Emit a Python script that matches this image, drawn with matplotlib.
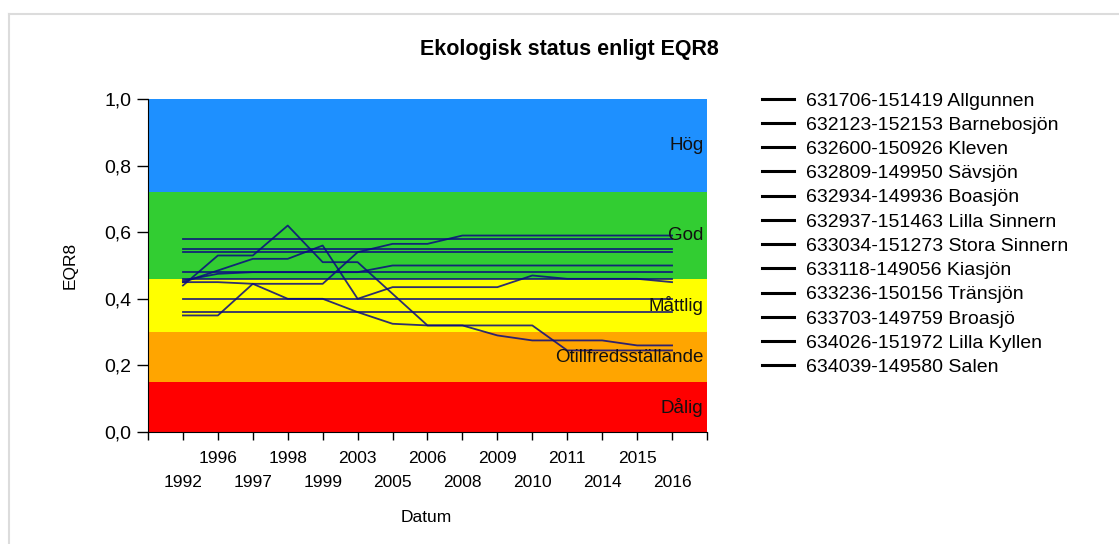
import matplotlib.pyplot as plt
from matplotlib.lines import Line2D

plt.rcParams['font.family'] = ['Liberation Sans', 'DejaVu Sans']

# x categories (sampling years)
years = ["1992", "1996", "1997", "1998", "1999", "2003", "2005", "2006",
         "2008", "2009", "2010", "2011", "2014", "2015", "2016"]

lakes = ["631706-151419 Allgunnen", "632123-152153 Barnebosjön",
         "632600-150926 Kleven", "632809-149950 Sävsjön",
         "632934-149936 Boasjön", "632937-151463 Lilla Sinnern",
         "633034-151273 Stora Sinnern", "633118-149056 Kiasjön",
         "633236-150156 Tränsjön", "633703-149759 Broasjö",
         "634026-151972 Lilla Kyllen", "634039-149580 Salen"]

# EQR8 values
allgunnen = [0.58, 0.58, 0.58, 0.58, 0.58, 0.58, 0.58, 0.58, 0.58, 0.58, 0.58, 0.58, 0.58, 0.58, 0.58]
barnebosjon = [0.55, 0.55, 0.55, 0.55, 0.55, 0.55, 0.55, 0.55, 0.55, 0.55, 0.55, 0.55, 0.55, 0.55, 0.55]
kleven = [0.54, 0.54, 0.54, 0.54, 0.54, 0.54, 0.54, 0.54, 0.54, 0.54, 0.54, 0.54, 0.54, 0.54, 0.54]
savsjon = [0.45, 0.45, 0.445, 0.445, 0.445, 0.54, 0.565, 0.565, 0.59, 0.59, 0.59, 0.59, 0.59, 0.59, 0.59]
boasjon = [0.48, 0.48, 0.48, 0.48, 0.48, 0.48, 0.48, 0.48, 0.48, 0.48, 0.48, 0.48, 0.48, 0.48, 0.48]
lilla_sinnern = [0.455, 0.475, 0.48, 0.48, 0.48, 0.48, 0.50, 0.50, 0.50, 0.50, 0.50, 0.50, 0.50, 0.50, 0.50]
stora_sinnern = [0.46, 0.46, 0.46, 0.46, 0.46, 0.46, 0.46, 0.46, 0.46, 0.46, 0.46, 0.46, 0.46, 0.46, 0.46]
kiasjon = [0.45, 0.485, 0.52, 0.52, 0.56, 0.40, 0.435, 0.435, 0.435, 0.435, 0.47, 0.46, 0.46, 0.46, 0.45]
transjon = [0.40, 0.40, 0.40, 0.40, 0.40, 0.40, 0.40, 0.40, 0.40, 0.40, 0.40, 0.40, 0.40, 0.40, 0.40]
broasjo = [0.44, 0.53, 0.53, 0.62, 0.51, 0.51, 0.415, 0.32, 0.32, 0.32, 0.32, 0.245, 0.245, 0.245, 0.245]
lilla_kyllen = [0.36, 0.36, 0.36, 0.36, 0.36, 0.36, 0.36, 0.36, 0.36, 0.36, 0.36, 0.36, 0.36, 0.36, 0.36]
salen = [0.35, 0.35, 0.445, 0.40, 0.40, 0.36, 0.325, 0.32, 0.32, 0.29, 0.275, 0.275, 0.275, 0.26, 0.26]

series = [allgunnen, barnebosjon, kleven, savsjon, boasjon, lilla_sinnern,
          stora_sinnern, kiasjon, transjon, broasjo, lilla_kyllen, salen]

# status classes
band_limits = [0.0, 0.15, 0.30, 0.46, 0.72, 1.0]
band_colors = ["#ff0000", "#ffa500", "#ffff00", "#32cd32", "#1e90ff"]
band_names = ["Dålig", "Otillfredsställande", "Måttlig", "God", "Hög"]

fig = plt.figure(figsize=(11.19, 5.44), dpi=100)
ax = fig.add_axes([148/1119, 112/544, 559/1119, 333/544])

for i in range(len(band_colors)):
    lo, hi = band_limits[i], band_limits[i + 1]
    ax.axhspan(lo, hi, color=band_colors[i], lw=0, zorder=0)
    ax.text(15.9, (lo + hi) / 2, band_names[i], ha='right', va='center',
            fontsize=13.5, color='#111111', zorder=5)

x = list(range(1, len(years) + 1))
for vals in series:
    ax.plot(x, vals, color='#0a0a80', lw=1.3, alpha=0.85, zorder=3)

ax.set_xlim(0, 16)
ax.set_ylim(0, 1)
ax.spines['top'].set_visible(False)
ax.spines['right'].set_visible(False)

# two staggered rows of year labels: upper row on major ticks, lower on minor
upper_pos = [p for p in x if p % 2 == 0]
upper_lab = [years[p - 1] for p in upper_pos]
lower_pos = [0] + [p for p in x if p % 2 == 1] + [16]
lower_lab = [""] + [years[p - 1] for p in x if p % 2 == 1] + [""]

ax.set_xticks(upper_pos)
ax.set_xticklabels(upper_lab, fontsize=12.5)
ax.set_xticks(lower_pos, minor=True)
ax.set_xticklabels(lower_lab, minor=True, fontsize=12.5)
ax.tick_params(axis='x', which='major', length=6, width=1, pad=8)
ax.tick_params(axis='x', which='minor', length=6, width=1, pad=25)

ax.set_yticks([0, 0.2, 0.4, 0.6, 0.8, 1.0])
ax.set_yticklabels(["0,0", "0,2", "0,4", "0,6", "0,8", "1,0"], fontsize=14)
ax.tick_params(axis='y', length=8, width=1, pad=4)

fig.text(569/1119, 1 - 49/544, "Ekologisk status enligt EQR8", ha='center', va='center',
         fontsize=15.5, fontweight='bold')
fig.text(70/1119, 1 - 265/544, "EQR8", rotation=90, ha='center', va='center', fontsize=12.5)
fig.text(426/1119, 1 - 517/544, "Datum", ha='center', va='center', fontsize=12.5)

handles = [Line2D([0], [0], color='black', lw=2.2) for _ in lakes]
fig.legend(handles, lakes, loc='upper left', bbox_to_anchor=(762/1119, 1 - 92/544),
           frameon=False, fontsize=14, handlelength=1.65, handletextpad=0.6,
           labelspacing=0.34, borderpad=0, borderaxespad=0)

# light frame around the chart area
fig.add_artist(Line2D([9/1119, 9/1119], [0, 1 - 14/544], color='#dcdcdc', lw=1.5,
                      transform=fig.transFigure))
fig.add_artist(Line2D([9/1119, 1], [1 - 14/544, 1 - 14/544], color='#dcdcdc', lw=1.5,
                      transform=fig.transFigure))

fig.savefig("out.png", dpi=100)
